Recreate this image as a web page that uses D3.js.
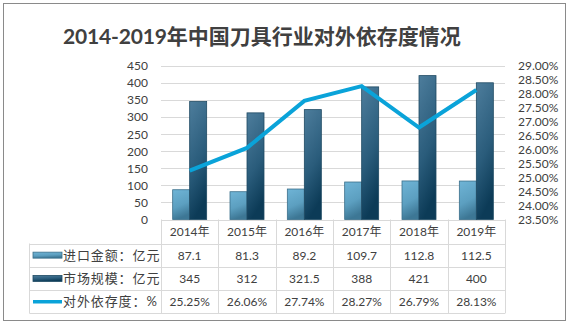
<!DOCTYPE html>
<html>
<head>
<meta charset="utf-8">
<script src="https://cdn.jsdelivr.net/npm/d3@7"></script>
<style>
  body { margin: 0; background: #fff; }
  svg { display: block; font-family: Lato, "Noto Sans CJK SC", sans-serif; }
</style>
</head>
<body>
<svg id="chart" width="569" height="326"></svg>
<script>
// data
var years = ["2014年", "2015年", "2016年", "2017年", "2018年", "2019年"];
var importValues = [87.1, 81.3, 89.2, 109.7, 112.8, 112.5];
var marketValues = [345, 312, 321.5, 388, 421, 400];
var dependValues = [25.25, 26.06, 27.74, 28.27, 26.79, 28.13];
var leftTicks = [0, 50, 100, 150, 200, 250, 300, 350, 400, 450];
var rightTicks = [23.5, 24, 24.5, 25, 25.5, 26, 26.5, 27, 27.5, 28, 28.5, 29];
var seriesNames = ["进口金额：亿元", "市场规模：亿元", "对外依存度：%"];

var svg = d3.select("#chart");
var textColor = "#404040";
var gridColor = "#d9d9d9";

// outer frame
svg.append("rect")
    .attr("x", 3.5).attr("y", 3.5)
    .attr("width", 562).attr("height", 317)
    .attr("fill", "#fff")
    .attr("stroke", "#8a8a8a");

// title
var title = svg.append("text")
    .attr("x", 63).attr("y", 44)
    .attr("fill", textColor)
    .attr("font-weight", "bold");
title.append("tspan")
    .attr("font-size", "21px")
    .attr("textLength", 104)
    .text("2014-2019");
title.append("tspan")
    .attr("font-size", "21px")
    .text("年中国刀具行业对外依存度情况");

// gradients
var defs = svg.append("defs");
function grad(id, stops) {
    var g = defs.append("linearGradient").attr("id", id)
        .attr("x1", 0).attr("y1", 0).attr("x2", 0.25).attr("y2", 1);
    stops.forEach(function(s) {
        g.append("stop").attr("offset", s[0]).attr("stop-color", s[1]);
    });
}
grad("gImport", [[0, "#6fb4d6"], [0.6, "#5c9fc0"], [1, "#3d7795"]]);
grad("gMarket", [[0, "#4d7d9c"], [0.6, "#2a5c7b"], [1, "#0c3b57"]]);

// scales
var plotLeft = 161, plotRight = 505, plotTop = 65.7, plotBottom = 219.5;

var x = d3.scaleBand()
    .domain(years)
    .range([plotLeft, plotRight])
    .paddingInner(0.407)
    .paddingOuter(0.2035);

var x1 = d3.scaleBand()
    .domain(["import", "market"])
    .range([0, x.bandwidth()]);

var yLeft = d3.scaleLinear().domain([0, 450]).range([plotBottom, plotTop]);
var yRight = d3.scaleLinear().domain([23.5, 29]).range([plotBottom, plotTop]);

// gridlines
svg.append("g")
    .selectAll("line")
    .data(leftTicks)
    .join("line")
    .attr("x1", plotLeft).attr("x2", plotRight)
    .attr("y1", function(d) { return Math.round(yLeft(d)) + 0.5; })
    .attr("y2", function(d) { return Math.round(yLeft(d)) + 0.5; })
    .attr("stroke", gridColor);

// left axis labels
svg.append("g")
    .selectAll("text")
    .data(leftTicks)
    .join("text")
    .attr("x", 148)
    .attr("y", function(d) { return yLeft(d) + 4.5; })
    .attr("text-anchor", "end")
    .attr("font-size", "12px")
    .attr("fill", textColor)
    .text(function(d) { return d; });

// right axis labels
svg.append("g")
    .selectAll("text")
    .data(rightTicks)
    .join("text")
    .attr("x", 518)
    .attr("y", function(d) { return yRight(d) + 4.5; })
    .attr("font-size", "12px")
    .attr("fill", textColor)
    .text(function(d) { return d.toFixed(2) + "%"; });

// bars
var bars = svg.append("g");
bars.selectAll("rect.imp")
    .data(years)
    .join("rect")
    .attr("class", "imp")
    .attr("x", function(d) { return x(d) + x1("import"); })
    .attr("y", function(d, i) { return yLeft(importValues[i]); })
    .attr("width", x1.bandwidth())
    .attr("height", function(d, i) { return plotBottom - yLeft(importValues[i]); })
    .attr("fill", "url(#gImport)")
    .attr("stroke", "#3b6f8a")
    .attr("stroke-width", 0.8);

bars.selectAll("rect.mkt")
    .data(years)
    .join("rect")
    .attr("class", "mkt")
    .attr("x", function(d) { return x(d) + x1("market"); })
    .attr("y", function(d, i) { return yLeft(marketValues[i]); })
    .attr("width", x1.bandwidth())
    .attr("height", function(d, i) { return plotBottom - yLeft(marketValues[i]); })
    .attr("fill", "url(#gMarket)")
    .attr("stroke", "#1f4a63")
    .attr("stroke-width", 0.8);

// line
var line = d3.line()
    .x(function(d, i) { return x(years[i]) + x.bandwidth() / 2; })
    .y(function(d) { return yRight(d); });

svg.append("path")
    .datum(dependValues)
    .attr("d", line)
    .attr("fill", "none")
    .attr("stroke", "#0aa3d9")
    .attr("stroke-width", 4)
    .attr("stroke-linejoin", "miter");

// data table
var headTop = plotBottom, rowTop = 243.5, rowH = 23.3;
var legendLeft = 29.5;
var step = x.step();
var colEdges = years.map(function(d) { return x(d) - x.paddingOuter() * step; });
colEdges.push(plotRight);

var table = svg.append("g");
// verticals in header and rows
colEdges.forEach(function(cx) {
    table.append("line")
        .attr("x1", Math.round(cx) + 0.5).attr("x2", Math.round(cx) + 0.5)
        .attr("y1", headTop).attr("y2", rowTop + 3 * rowH)
        .attr("stroke", gridColor);
});
table.append("line")
    .attr("x1", legendLeft).attr("x2", legendLeft)
    .attr("y1", rowTop).attr("y2", rowTop + 3 * rowH)
    .attr("stroke", gridColor);
// horizontals
[0, 1, 2, 3].forEach(function(r) {
    var yy = Math.round(rowTop + r * rowH) + 0.5;
    table.append("line")
        .attr("x1", legendLeft).attr("x2", plotRight)
        .attr("y1", yy).attr("y2", yy)
        .attr("stroke", gridColor);
});

// year labels
table.selectAll("text.year")
    .data(years)
    .join("text")
    .attr("class", "year")
    .attr("x", function(d) { return x(d) + x.bandwidth() / 2; })
    .attr("y", 236)
    .attr("text-anchor", "middle")
    .attr("font-size", "12px")
    .attr("fill", textColor)
    .text(function(d) { return d; });

// row values
var rows = [
    importValues.map(function(v) { return String(v); }),
    marketValues.map(function(v) { return String(v); }),
    dependValues.map(function(v) { return v.toFixed(2) + "%"; })
];
rows.forEach(function(vals, r) {
    table.selectAll("text.r" + r)
        .data(vals)
        .join("text")
        .attr("class", "r" + r)
        .attr("x", function(d, i) { return x(years[i]) + x.bandwidth() / 2; })
        .attr("y", rowTop + r * rowH + rowH / 2 + 4.5)
        .attr("text-anchor", "middle")
        .attr("font-size", "12px")
        .attr("fill", textColor)
        .text(function(d) { return d; });
});

// legend keys
var keyY = function(r) { return rowTop + r * rowH + rowH / 2; };
table.append("rect")
    .attr("x", 33).attr("y", keyY(0) - 3).attr("width", 29).attr("height", 6)
    .attr("fill", "url(#gImport)").attr("stroke", "#3b6f8a").attr("stroke-width", 0.8);
table.append("rect")
    .attr("x", 33).attr("y", keyY(1) - 3).attr("width", 29).attr("height", 6)
    .attr("fill", "url(#gMarket)").attr("stroke", "#1f4a63").attr("stroke-width", 0.8);
table.append("line")
    .attr("x1", 33).attr("x2", 62)
    .attr("y1", keyY(2)).attr("y2", keyY(2))
    .attr("stroke", "#0aa3d9").attr("stroke-width", 3.5);

table.selectAll("text.key")
    .data(seriesNames)
    .join("text")
    .attr("class", "key")
    .attr("x", 63)
    .attr("y", function(d, i) { return keyY(i) + 4.5; })
    .attr("font-size", "13px")
    .attr("letter-spacing", "0.9px")
    .attr("fill", textColor)
    .text(function(d) { return d; });
</script>
</body>
</html>
